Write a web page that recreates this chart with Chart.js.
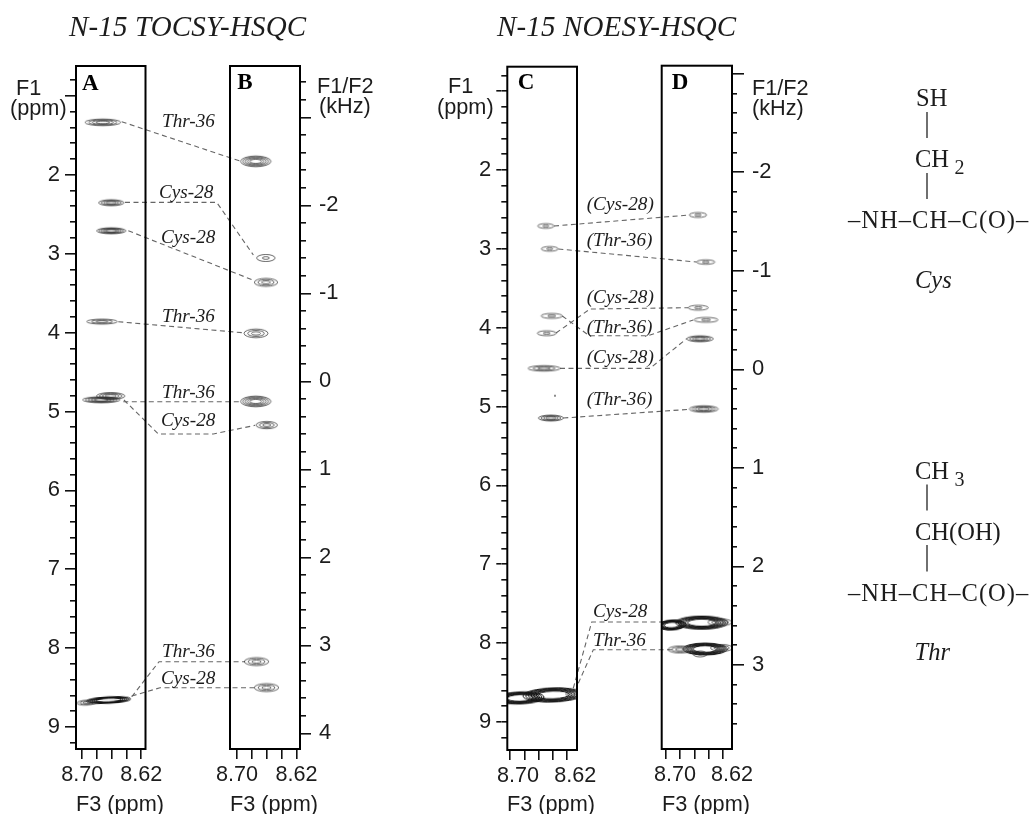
<!DOCTYPE html>
<html><head><meta charset="utf-8">
<style>
html,body{margin:0;padding:0;background:#fff;overflow:hidden}
#page{position:relative;width:1032px;height:814px;background:#fff;filter:blur(0.4px)}
canvas,svg{position:absolute;left:0;top:0}
svg{pointer-events:none}
</style>
<script src="https://cdn.jsdelivr.net/npm/chart.js@4/dist/chart.umd.min.js"></script>
</head><body><div id="page">
<canvas id="cA" width="1032" height="814"></canvas>
<canvas id="cB" width="1032" height="814"></canvas>
<canvas id="cC" width="1032" height="814"></canvas>
<canvas id="cD" width="1032" height="814"></canvas>
<svg id="notes" width="1032" height="814" xmlns="http://www.w3.org/2000/svg"></svg>
</div>
<script>
// ---------- tick values ----------
const f3Ticks = [8.70, 8.68, 8.66, 8.64, 8.62];
const f3Labelled = [8.70, 8.62];
const f1MinorTicks = [0.8,1,1.2,1.4,1.6,1.8,2,2.2,2.4,2.6,2.8,3,3.2,3.4,3.6,3.8,4,4.2,4.4,4.6,4.8,5,5.2,5.4,5.6,5.8,6,6.2,6.4,6.6,6.8,7,7.2,7.4,7.6,7.8,8,8.2,8.4,8.6,8.8,9,9.2];
const f1MajorTicks = [1,2,3,4,5,6,7,8,9];
const f1Labelled = [2,3,4,5,6,7,8,9];
const kHzMinorB = [-3.4,-3.2,-3,-2.8,-2.6,-2.4,-2.2,-2,-1.8,-1.6,-1.4,-1.2,-1,-0.8,-0.6,-0.4,-0.2,0,0.2,0.4,0.6,0.8,1,1.2,1.4,1.6,1.8,2,2.2,2.4,2.6,2.8,3,3.2,3.4,3.6,3.8,4];
const kHzMajorB = [-3,-2,-1,0,1,2,3,4];
const kHzMinorD = [-3,-2.8,-2.6,-2.4,-2.2,-2,-1.8,-1.6,-1.4,-1.2,-1,-0.8,-0.6,-0.4,-0.2,0,0.2,0.4,0.6,0.8,1,1.2,1.4,1.6,1.8,2,2.2,2.4,2.6,2.8,3,3.2,3.4,3.6];
const kHzMajorD = [-3,-2,-1,0,1,2,3];
const kHzLabelled = [-2,-1,0,1,2,3,4];

// ---------- peaks: F3 ppm, F1 ppm, linewidths (ppm), contour levels, tilt ----------
const peaksA_F3 = [8.6722,8.6607,8.6607,8.6733,8.6742,8.6614,8.6642,8.6936];
const peaksA_F1 = [1.336,2.355,2.710,3.861,4.852,4.805,8.658,8.690];
const peaksA_wF3 = [0.0484,0.0343,0.0397,0.0415,0.0506,0.0384,0.0597,0.0270];
const peaksA_wF1 = [0.084,0.076,0.076,0.063,0.076,0.089,0.082,0.063];
const peaksA_levels = [4,4,5,3,5,4,6,3];
const peaksA_tilt = [0,0,0,0,0,0,-3,-3];

const peaksB_F3 = [8.6748,8.6613,8.6611,8.6745,8.6748,8.6601,8.6738,8.6604];
const peaksB_F1 = [1.830,3.055,3.364,4.010,4.873,5.173,8.170,8.500];
const peaksB_wF3 = [0.0407,0.0246,0.0314,0.0322,0.0407,0.0286,0.0328,0.0328];
const peaksB_wF1 = [0.136,0.089,0.101,0.110,0.136,0.093,0.101,0.101];
const peaksB_levels = [5,2,3,3,5,3,3,3];
const peaksB_tilt = [0,0,0,0,0,0,0,0];

const peaksC_F3 = [8.6499,8.6445,8.6417,8.6487,8.6524,8.6429,8.6371,8.6399,8.6860,8.6133];
const peaksC_F1 = [2.710,3.000,3.850,4.070,4.515,5.145,4.862,8.657,8.695,8.645];
const peaksC_wF3 = [0.0228,0.0234,0.0298,0.0262,0.0448,0.0350,0.0020,0.0839,0.0671,0.0168];
const peaksC_wF1 = [0.060,0.060,0.063,0.063,0.070,0.076,0.013,0.178,0.152,0.089];
const peaksC_levels = [2,2,2,2,3,4,1,6,6,3];
const peaksC_tilt = [0,0,0,0,0,0,0,-2,-2,0];

const peaksD_F3 = [8.6551,8.6441,8.6546,8.6438,8.6522,8.6469,8.6499,8.6916,8.6242,8.6452,8.6803,8.6218,8.6522];
const peaksD_F1 = [2.570,3.167,3.746,3.900,4.140,5.030,7.740,7.770,7.735,8.074,8.080,8.060,8.137];
const peaksD_wF3 = [0.0244,0.0257,0.0281,0.0337,0.0374,0.0407,0.0730,0.0393,0.0337,0.0618,0.0337,0.0309,0.0197];
const peaksD_wF1 = [0.063,0.057,0.063,0.063,0.076,0.082,0.165,0.127,0.089,0.152,0.089,0.089,0.076];
const peaksD_levels = [2,2,2,2,4,4,6,6,3,6,3,3,2];
const peaksD_tilt = [0,0,0,0,0,0,0,-3,0,0,0,0,0];

// ---------- dashed assignment connectors, in F3/F1 units continued past the first strip ----------
const linksAB_F3 = [
 [8.6466,8.4852],[8.6421,8.5178,8.4681],[8.6376,8.4700],[8.6512,8.4817],
 [8.6444,8.4852],[8.6435,8.5969,8.5224,8.4658],[8.6330,8.5960,8.4794],[8.6330,8.5946,8.4672]];
const linksAB_F1 = [
 [1.328,1.830],[2.350,2.350,3.018],[2.710,3.330],[3.863,4.003],
 [4.877,4.877],[4.855,5.286,5.286,5.176],[8.616,8.172,8.172],[8.607,8.502,8.502]];
const linksCD_F3 = [
 [8.6385,8.4492],[8.6324,8.4389],[8.6357,8.5881,8.4506],[8.6269,8.5891,8.5066,8.4436],
 [8.6301,8.5042,8.4529],[8.6255,8.4492],[8.6115,8.5857,8.4878],[8.6045,8.5835,8.4738]];
const linksCD_F1 = [
 [2.710,2.571],[3.002,3.167],[4.067,3.763,3.746],[3.851,4.101,4.101,3.902],
 [4.515,4.515,4.139],[5.145,5.035],[8.572,7.732,7.732],[8.508,8.083,8.083]];

// ---------- text ----------
const titles = ["N-15 TOCSY-HSQC","N-15 NOESY-HSQC"];
const panelLetters = ["A","B","C","D"];
const residueLabels = ["Thr-36","Cys-28","Cys-28","Thr-36","Thr-36","Cys-28","Thr-36","Cys-28",
 "(Cys-28)","(Thr-36)","(Cys-28)","(Thr-36)","(Cys-28)","(Thr-36)","Cys-28","Thr-36"];

// ---------- rendering ----------
const SANS = "'Liberation Sans', Arial, sans-serif";
const INK = '#1c1c1c';
const stampCache = {};
function contourStamp(rx, ry, n, heavy){
  const key=[rx.toFixed(1),ry.toFixed(1),n,heavy].join('|');
  if(stampCache[key]) return stampCache[key];
  const c=document.createElement('canvas');
  c.width=Math.ceil(rx*2+4); c.height=Math.ceil(ry*2+4);
  const g=c.getContext('2d');
  g.strokeStyle=heavy?'#111':'#2a2a2a'; g.lineWidth=heavy?1:0.7;
  const span=heavy?0.45:0.62;
  for(let i=0;i<n;i++){
    const s=n===1?1:1-span*i/(n-1);
    g.beginPath();
    g.ellipse(c.width/2,c.height/2,Math.max(rx*s,0.3),Math.max(ry*s,0.3),0,0,Math.PI*2);
    g.stroke();
  }
  return stampCache[key]=c;
}
function pointStamp(ctx){
  const r=ctx.raw; if(!r) return 'circle';
  const sx=ctx.chart.scales.x, sy=ctx.chart.scales.y;
  const w=Math.abs(sx.getPixelForValue(r.x+r.wx/2)-sx.getPixelForValue(r.x-r.wx/2));
  const h=Math.abs(sy.getPixelForValue(r.y+r.wy/2)-sy.getPixelForValue(r.y-r.wy/2));
  return contourStamp(w/2,h/2,r.levels,r.levels>=6);
}
const framePlugin={id:'frame',afterDatasetsDraw(ch){
  const a=ch.chartArea,g=ch.ctx;g.save();g.strokeStyle='#000';g.lineWidth=2;
  g.strokeRect(a.left,a.top,a.right-a.left,a.bottom-a.top);g.restore();}};

function yAxis(vals,min,max,pos,len,width,weight,labels,pad){
  return {type:'linear',position:pos,min,max,reverse:true,weight,
    afterBuildTicks:s=>{s.ticks=vals.map(v=>({value:v}));},
    afterFit:s=>{s.width=width;},
    grid:{drawOnChartArea:false,drawTicks:true,tickLength:len,tickWidth:1.6,tickColor:'#111',lineWidth:1.6},
    border:{display:false},
    ticks:{display:!!labels,autoSkip:false,maxRotation:0,padding:pad||0,color:INK,
      font:{family:SANS,size:22},
      callback:v=>(labels&&labels.includes(v))?String(v):''}};
}
function panel(id,cfg){
  const OUT=50,IN=6;
  const scales={
    x:{type:'linear',position:'bottom',min:cfg.xmin,max:cfg.xmax,reverse:true,
      afterBuildTicks:s=>{s.ticks=f3Ticks.map(v=>({value:v}));},
      afterFit:s=>{s.height=814-cfg.B;},
      grid:{drawOnChartArea:false,drawTicks:true,tickLength:10,tickWidth:1.6,tickColor:'#111',lineWidth:1.6},
      border:{display:false},
      ticks:{autoSkip:false,maxRotation:0,padding:3,labelOffset:cfg.lo||0,color:INK,font:{family:SANS,size:21.6},
        callback:v=>f3Labelled.includes(v)?v.toFixed(2):''}},
  };
  let pad;
  if(cfg.left){
    scales.y=yAxis(f1MinorTicks,cfg.ymin,cfg.ymax,'left',IN,IN,0,null);
    scales.yMajor=yAxis(f1MajorTicks,cfg.ymin,cfg.ymax,'left',5,OUT,1,f1Labelled,cfg.lp);
    scales.yMajor.axis='y';
    pad={left:cfg.L-OUT-IN,right:1032-cfg.R,top:cfg.T,bottom:0};
  }else{
    scales.y={type:'linear',display:false,min:cfg.ymin,max:cfg.ymax,reverse:true};
    scales.k=yAxis(cfg.kMinor,cfg.kmin,cfg.kmax,'right',cfg.kIn,cfg.kIn,0,null);
    scales.k.axis='y';
    scales.kMajor=yAxis(cfg.kMajor,cfg.kmin,cfg.kmax,'right',cfg.kOut,OUT,1,kHzLabelled,8);
    scales.kMajor.axis='y';
    pad={left:cfg.L,right:1032-cfg.R-OUT-cfg.kIn,top:cfg.T,bottom:0};
  }
  const peaks=cfg.f3.map((x,i)=>({x,y:cfg.f1[i],wx:cfg.wf3[i],wy:cfg.wf1[i],levels:cfg.levels[i],tilt:cfg.tilt[i]}));
  const datasets=[{type:'scatter',data:peaks,showLine:false,pointRadius:1,pointStyle:pointStamp,
    pointRotation:c=>c.raw?c.raw.tilt:0,xAxisID:'x',yAxisID:'y'}];
  (cfg.linkF3||[]).forEach((xs,i)=>datasets.push({type:'line',
    data:xs.map((x,j)=>({x,y:cfg.linkF1[i][j]})),parsing:{xAxisKey:'x',yAxisKey:'y'},
    borderColor:'#666',borderWidth:1.1,borderDash:[5,3.5],pointRadius:0,fill:false,tension:0,clip:false,
    xAxisID:'x',yAxisID:'y'}));
  return new Chart(document.getElementById(id),{type:'scatter',data:{datasets},plugins:[framePlugin],
    options:{responsive:false,animation:false,events:[],devicePixelRatio:1,
      layout:{autoPadding:false,padding:pad},
      plugins:{legend:{display:false},tooltip:{enabled:false},title:{display:false}},
      scales}});
}
panel('cA',{L:76,R:145.5,T:66,B:749,xmin:8.6143,xmax:8.7085,ymin:0.622,ymax:9.278,left:true,lp:5,
  f3:peaksA_F3,f1:peaksA_F1,wf3:peaksA_wF3,wf1:peaksA_wF1,levels:peaksA_levels,tilt:peaksA_tilt,
  linkF3:linksAB_F3,linkF1:linksAB_F1});
panel('cB',{L:230,R:300,T:66,B:749,xmin:8.6154,xmax:8.7094,ymin:0.622,ymax:9.278,
  kmin:-3.583,kmax:4.178,kMinor:kHzMinorB,kMajor:kHzMajorB,kIn:6,kOut:5,
  f3:peaksB_F3,f1:peaksB_F1,wf3:peaksB_wF3,wf1:peaksB_wF1,levels:peaksB_levels,tilt:peaksB_tilt});
panel('cC',{L:507.3,R:577,T:66.7,B:750,lo:8,xmin:8.6063,xmax:8.7038,ymin:0.690,ymax:9.355,left:true,lp:5,
  f3:peaksC_F3,f1:peaksC_F1,wf3:peaksC_wF3,wf1:peaksC_wF1,levels:peaksC_levels,tilt:peaksC_tilt,
  linkF3:linksCD_F3,linkF1:linksCD_F1});
panel('cD',{L:661.7,R:732,T:65.7,B:749,lo:9,xmin:8.6073,xmax:8.7060,ymin:0.677,ymax:9.342,
  kmin:-3.082,kmax:3.854,kMinor:kHzMinorD,kMajor:kHzMajorD,kIn:5,kOut:7,
  f3:peaksD_F3,f1:peaksD_F1,wf3:peaksD_wF3,wf1:peaksD_wF1,levels:peaksD_levels,tilt:peaksD_tilt});

// ---------- annotations ----------
const svg=document.getElementById('notes');
const NS='http://www.w3.org/2000/svg';
function T(str,x,y,size,opts){
  opts=opts||{};
  const t=document.createElementNS(NS,'text');
  t.setAttribute('x',x);t.setAttribute('y',y);
  t.setAttribute('font-family',opts.sans?"Liberation Sans":"Liberation Serif");
  t.setAttribute('font-size',size);
  t.setAttribute('fill',opts.fill||INK);
  if(opts.italic)t.setAttribute('font-style','italic');
  if(opts.bold)t.setAttribute('font-weight','bold');
  if(opts.ls)t.setAttribute('letter-spacing',opts.ls);
  t.textContent=str;svg.appendChild(t);
}
function bond(x,y1,y2){
  const l=document.createElementNS(NS,'line');
  l.setAttribute('x1',x);l.setAttribute('x2',x);l.setAttribute('y1',y1);l.setAttribute('y2',y2);
  l.setAttribute('stroke','#333');l.setAttribute('stroke-width',1.4);svg.appendChild(l);
}
T(titles[0],69,36,29,{italic:true,ls:0.15});
T(titles[1],497,36,29,{italic:true,ls:0.15});
[[82,90],[237.3,89],[517.7,89.3],[671.7,89.3]].forEach((p,i)=>T(panelLetters[i],p[0],p[1],23,{bold:true,fill:'#000'}));
const labelSpots=[[162,127],[159,198],[161,243],[162,321.7],[162,398],[161,426],[162,656.7],[161,684],
 [586.7,210],[586.7,246],[586.7,302.7],[586.7,333],[586.7,363],[586.7,405],[593,616.7],[593,646]];
residueLabels.forEach((s,i)=>T(s,labelSpots[i][0],labelSpots[i][1],19.2,{italic:true}));
// axis captions
[[16,95,'F1'],[10,115,'(ppm)'],[317,93,'F1/F2'],[319,113,'(kHz)'],[448,93,'F1'],[437,114,'(ppm)'],[752,95,'F1/F2'],[752,115,'(kHz)'],
 [76,811,'F3 (ppm)'],[230,811,'F3 (ppm)'],[507,811,'F3 (ppm)'],[662,811,'F3 (ppm)']].forEach(a=>T(a[2],a[0],a[1],21.7,{sans:true}));
// side-chain structures
T('SH',916,106,24.5);bond(927,112,138);
T('CH',915,167.3,24.5);T('2',954.5,174,20);bond(927,173,199);
T('–NH–CH–C(O)–',848,227.7,24.5,{ls:1.05});
T('Cys',915,287.7,24.5,{italic:true});
T('CH',915,479,24.5);T('3',954.5,486,20);bond(927,484.5,510.5);
T('CH(OH)',915,540,24.5);bond(927,545,571.5);
T('–NH–CH–C(O)–',848,600.7,24.5,{ls:1.05});
T('Thr',914.5,660,24.5,{italic:true});
</script>
</body></html>
